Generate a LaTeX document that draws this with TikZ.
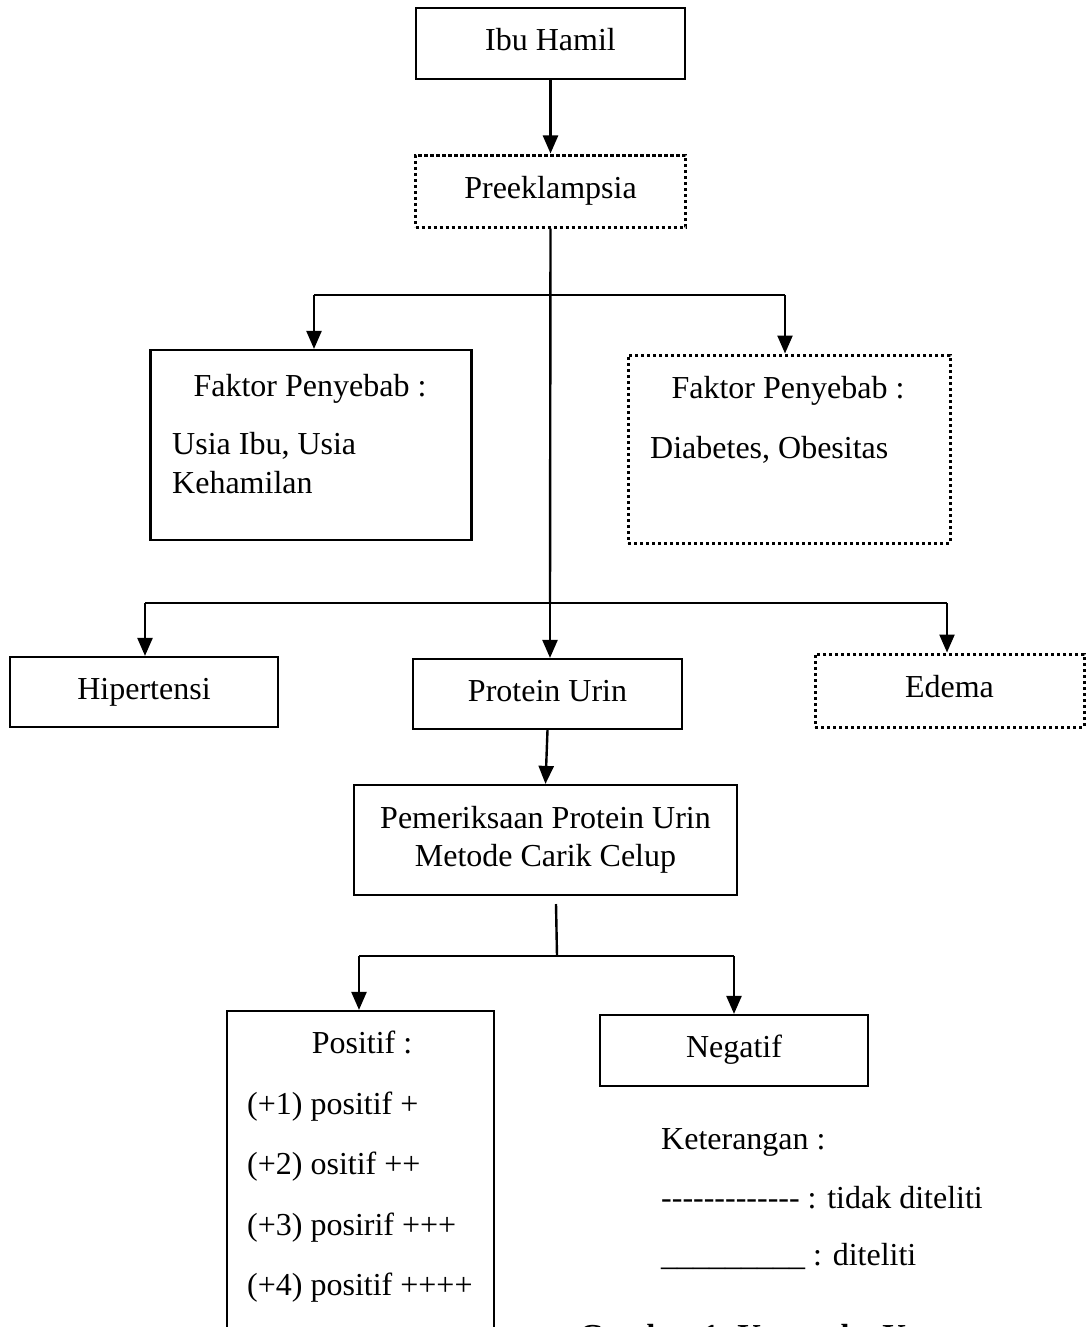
\documentclass[tikz,border=0pt]{standalone}
\usepackage{fontspec}
\setmainfont{Liberation Serif}
\usetikzlibrary{arrows.meta}
\begin{document}
\begin{tikzpicture}[x=1pt,y=-1pt,
  every node/.style={font=\fontsize{32}{38}\selectfont, inner sep=0pt},
  solidbox/.style={draw, line width=2.2pt},
  dotbox/.style={draw, line width=3pt, dash pattern=on 3.3pt off 2.7pt},
  oneline/.style={text height=22pt, text depth=8pt},
  conn/.style={line width=2.4pt},
  arr/.style={conn, -{Triangle[length=18pt,width=15pt]}},
  lefttext/.style={anchor=base west},
  midtext/.style={anchor=base}]
\useasboundingbox (0,0) rectangle (1086,1327);
\fill[white] (0,0) rectangle (1086,1327);

% boxes
\node[solidbox, oneline, minimum width=269pt, minimum height=71pt] (ibu) at (550.5,43.5) {Ibu Hamil};
\node[dotbox, oneline, minimum width=270pt, minimum height=72pt] (pre) at (550.5,191) {Preeklampsia};
\node[solidbox, minimum width=321pt, minimum height=190pt] (fk1) at (311,445) {};
\node[dotbox, minimum width=322pt, minimum height=188pt] (fk2) at (789,449) {};
\node[solidbox, oneline, minimum width=268pt, minimum height=70pt] (hip) at (144,692) {Hipertensi};
\node[solidbox, oneline, minimum width=269pt, minimum height=70pt] (pu) at (547.5,694) {Protein Urin};
\node[dotbox, oneline, minimum width=269pt, minimum height=73pt] (ed) at (949.5,690.5) {Edema};
\node[solidbox, minimum width=383pt, minimum height=110pt, align=center] (pem) at (545.5,840) {Pemeriksaan Protein Urin\\Metode Carik Celup};
\node[solidbox, minimum width=267pt, minimum height=400pt] (pos) at (360.5,1211) {};
\node[solidbox, oneline, minimum width=268pt, minimum height=71pt] (neg) at (734,1050.5) {Negatif};

% texts inside boxes
\node[midtext] (fk1a) at (310,396) {Faktor Penyebab :};
\node[lefttext] (fk1b) at (172,454) {Usia Ibu, Usia};
\node[lefttext] (fk1c) at (172,493) {Kehamilan};
\node[midtext] (fk2a) at (788,398) {Faktor Penyebab :};
\node[lefttext] (fk2b) at (650,458) {Diabetes, Obesitas};

\node[midtext] (posa) at (362,1053) {Positif :};
\node[lefttext] (pos1) at (247,1114) {(+1) positif +};
\node[lefttext] (pos2) at (247,1174) {(+2) ositif ++};
\node[lefttext] (pos3) at (247,1235) {(+3) posirif +++};
\node[lefttext] (pos4) at (247,1295) {(+4) positif ++++};

% legend
\node[lefttext] (ket) at (661,1149) {Keterangan :};
\node[lefttext] (ket1) at (661,1208) {-{}-{}-{}-{}-{}-{}-{}-{}-{}-{}-{}-{}- : tidak diteliti};
\node[lefttext] (ket2) at (661,1265) {\_\_\_\_\_\_\_\_\_ : diteliti};
\node[lefttext, font=\fontsize{32}{38}\selectfont\bfseries] (cap) at (579,1346) {Gambar 1. Kerangka Konsep};

% junction coordinates
\coordinate (ul) at (314,295);
\coordinate (ur) at (785,295);
\coordinate (ll) at (145,603);
\coordinate (lm) at (550,603);
\coordinate (lr) at (947,603);
\coordinate (ps) at (556,904);
\coordinate (bm) at (557,956);
\coordinate (bl) at (359,956);
\coordinate (br) at (734,956);

% connectors
\draw[arr] (ibu.south) -- (pre.north);
\draw[conn] (pre.south) -- (lm);
\draw[conn] (ul) -- (ur);
\draw[arr] (ul) -- (ul |- fk1.north);
\draw[arr] (ur) -- (ur |- fk2.north);
\draw[conn] (ll) -- (lr);
\draw[arr] (ll) -- (ll |- hip.north);
\draw[arr] (lm) -- (lm |- pu.north);
\draw[arr] (lr) -- (lr |- ed.north);
\draw[arr] (pu.south) -- (pem.north);
\draw[conn] (ps) -- (bm);
\draw[conn] (bl) -- (br);
\draw[arr] (bl) -- (bl |- pos.north);
\draw[arr] (br) -- (br |- neg.north);
\end{tikzpicture}
\end{document}
